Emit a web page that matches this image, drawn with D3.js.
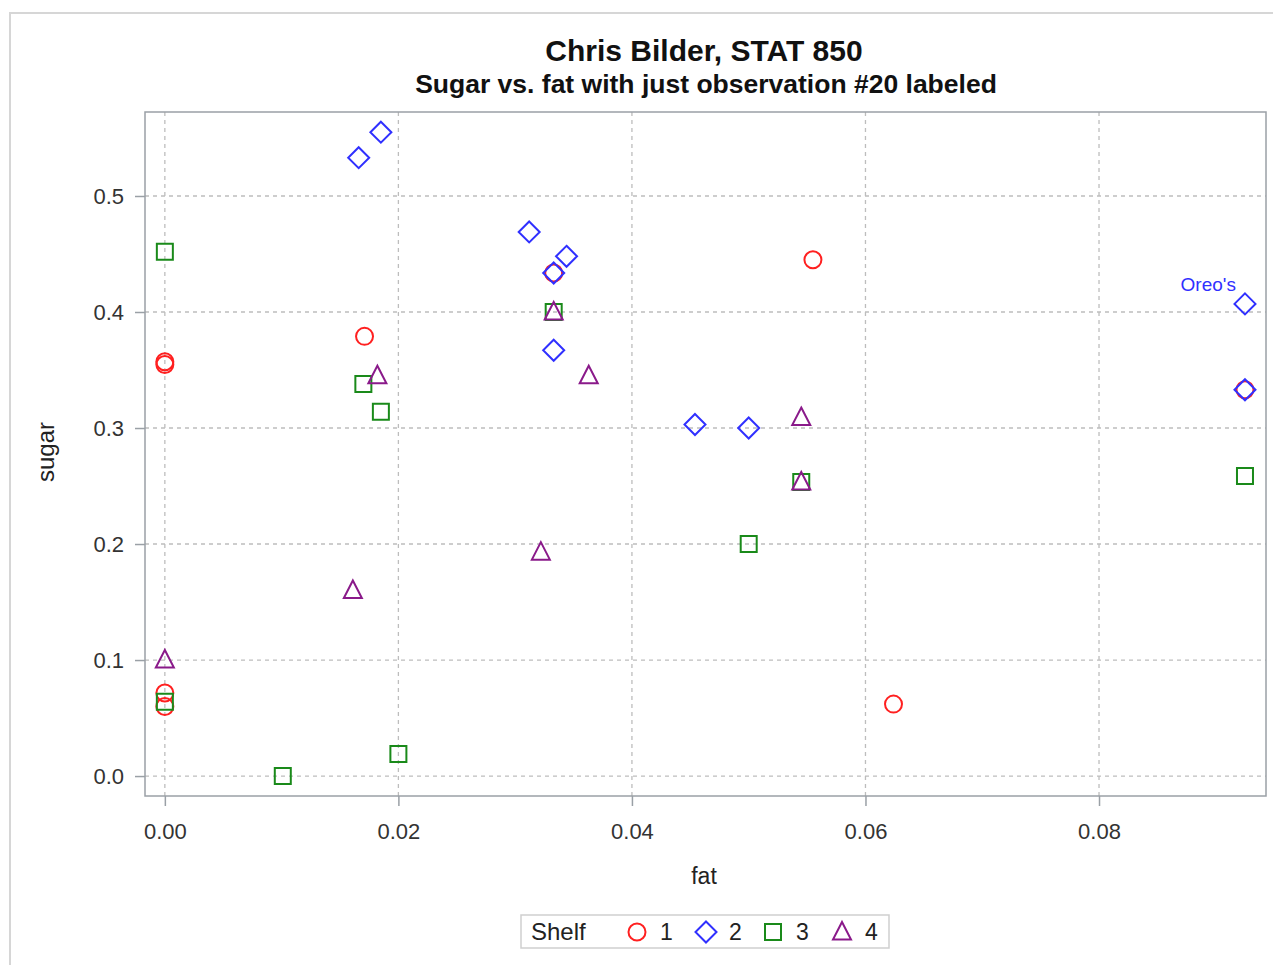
<!DOCTYPE html>
<meta charset="utf-8">
<title>Sugar vs. fat</title>
<script src="https://d3js.org/d3.v7.min.js"></script>
<style>
  body { margin: 0; background: #fff; }
  text { font-family: Arial, "Liberation Sans", sans-serif; }
  .grid line { stroke: #bdbdbd; stroke-dasharray: 4,4; stroke-width: 1.3; }
  .tick text { fill: #333; font-size: 22px; }
</style>
<body>
<script>

// data: one array per shelf, [fat, sugar]
var shelf1 = [[0, 0.3571], [0, 0.3548], [0.0171, 0.379], [0.0333, 0.4336], [0.0555, 0.445],
              [0.0624, 0.062], [0, 0.0716], [0, 0.060], [0.0925, 0.333]];
var shelf2 = [[0.0166, 0.533], [0.0185, 0.555], [0.0312, 0.469], [0.0344, 0.448], [0.0333, 0.4336],
              [0.0333, 0.367], [0.0454, 0.303], [0.05, 0.300], [0.0925, 0.407], [0.0925, 0.333]];
var shelf3 = [[0, 0.452], [0.017, 0.338], [0.0185, 0.314], [0.0333, 0.40], [0, 0.064],
              [0.0101, 0.0], [0.02, 0.019], [0.05, 0.20], [0.0545, 0.2535], [0.0925, 0.2586]];
var shelf4 = [[0.0182, 0.345], [0.0333, 0.40], [0.0363, 0.345], [0.0545, 0.309], [0.0545, 0.2535],
              [0.0322, 0.193], [0.0161, 0.160], [0, 0.10]];

var shelves = ["1", "2", "3", "4"];
var xTicks = [0, 0.02, 0.04, 0.06, 0.08];
var yTicks = [0, 0.1, 0.2, 0.3, 0.4, 0.5];
var labelled = {fat: 0.0925, sugar: 0.407, text: "Oreo's"};   // observation #20

var colors = ["#ff2020", "#3030ff", "#1a8a1a", "#8a1a8a"];
var allData = [shelf1, shelf2, shelf3, shelf4];

var W = 1273, H = 965;
var plot = {left: 145, right: 1266, top: 112, bottom: 796};

var svg = d3.select("body").append("svg")
    .attr("width", W).attr("height", H);

// page frame
svg.append("path")
    .attr("d", "M10," + H + " V13 H" + W)
    .attr("fill", "none").attr("stroke", "#d6d6d6").attr("stroke-width", 2);

var x = d3.scaleLinear().domain([-0.0017, 0.0943]).range([plot.left, plot.right]);
var y = d3.scaleLinear().domain([-0.0172, 0.5724]).range([plot.bottom, plot.top]);

// grid
var grid = svg.append("g").attr("class", "grid");
grid.selectAll(".gx").data(xTicks).enter().append("line")
    .attr("x1", d => x(d)).attr("x2", d => x(d))
    .attr("y1", plot.top).attr("y2", plot.bottom);
grid.selectAll(".gy").data(yTicks).enter().append("line")
    .attr("y1", d => y(d)).attr("y2", d => y(d))
    .attr("x1", plot.left).attr("x2", plot.right);

// axes
var xAxis = svg.append("g")
    .attr("transform", "translate(0," + plot.bottom + ")")
    .call(d3.axisBottom(x).tickValues(xTicks).tickFormat(d3.format(".2f")).tickSize(10).tickPadding(17).tickSizeOuter(0));
var yAxis = svg.append("g")
    .attr("transform", "translate(" + plot.left + ",0)")
    .call(d3.axisLeft(y).tickValues(yTicks).tickFormat(d3.format(".1f")).tickSize(10).tickPadding(11).tickSizeOuter(0));
[xAxis, yAxis].forEach(function(a) {
  a.select(".domain").remove();
  a.selectAll(".tick line").attr("stroke", "#9aa0a6").attr("stroke-width", 1.5);
});

// plot frame
svg.append("rect")
    .attr("x", plot.left).attr("y", plot.top)
    .attr("width", plot.right - plot.left).attr("height", plot.bottom - plot.top)
    .attr("fill", "none").attr("stroke", "#9aa0a6").attr("stroke-width", 1.5);

// marker shapes
function marker(i) {
  if (i === 0) return "M-8.5,0 A8.5,8.5 0 1,0 8.5,0 A8.5,8.5 0 1,0 -8.5,0 Z";
  if (i === 1) return "M0,-10.5 L10.5,0 L0,10.5 L-10.5,0 Z";
  if (i === 2) return "M-8,-8 H8 V8 H-8 Z";
  return "M0,-10 L9,7.5 L-9,7.5 Z";
}

allData.forEach(function(series, i) {
  svg.append("g").selectAll("path").data(series).enter().append("path")
      .attr("transform", d => "translate(" + x(d[0]) + "," + y(d[1]) + ")")
      .attr("d", marker(i))
      .attr("fill", "none")
      .attr("stroke", colors[i])
      .attr("stroke-width", 2);
});

// label for observation #20
svg.append("text")
    .attr("x", x(labelled.fat) - 9).attr("y", y(labelled.sugar) - 13)
    .attr("text-anchor", "end")
    .attr("fill", "#3030ff").attr("font-size", "19px")
    .text(labelled.text);

// titles
svg.append("text").attr("x", 704).attr("y", 61).attr("text-anchor", "middle")
    .attr("font-size", "30px").attr("font-weight", "bold").attr("fill", "#111")
    .text("Chris Bilder, STAT 850");
svg.append("text").attr("x", 706).attr("y", 93).attr("text-anchor", "middle")
    .attr("font-size", "26.5px").attr("font-weight", "bold").attr("fill", "#111")
    .text("Sugar vs. fat with just observation #20 labeled");

// axis labels
svg.append("text").attr("x", 704).attr("y", 884).attr("text-anchor", "middle")
    .attr("font-size", "23px").attr("fill", "#222").text("fat");
svg.append("text").attr("transform", "translate(54,452) rotate(-90)").attr("text-anchor", "middle")
    .attr("font-size", "24px").attr("fill", "#222").text("sugar");

// legend
var lg = svg.append("g");
lg.append("rect").attr("x", 521).attr("y", 915).attr("width", 368).attr("height", 33)
    .attr("fill", "#fff").attr("stroke", "#cfcfcf").attr("stroke-width", 1.5);
lg.append("text").attr("x", 531).attr("y", 940).attr("font-size", "24px").attr("fill", "#222").text("Shelf");
var legX = [637, 706, 773, 842];
shelves.forEach(function(s, i) {
  lg.append("path").attr("transform", "translate(" + legX[i] + ",932)")
      .attr("d", marker(i)).attr("fill", "none").attr("stroke", colors[i]).attr("stroke-width", 2);
  lg.append("text").attr("x", legX[i] + 23).attr("y", 940).attr("font-size", "23px")
      .attr("fill", "#222").text(s);
});

</script>
</body>
